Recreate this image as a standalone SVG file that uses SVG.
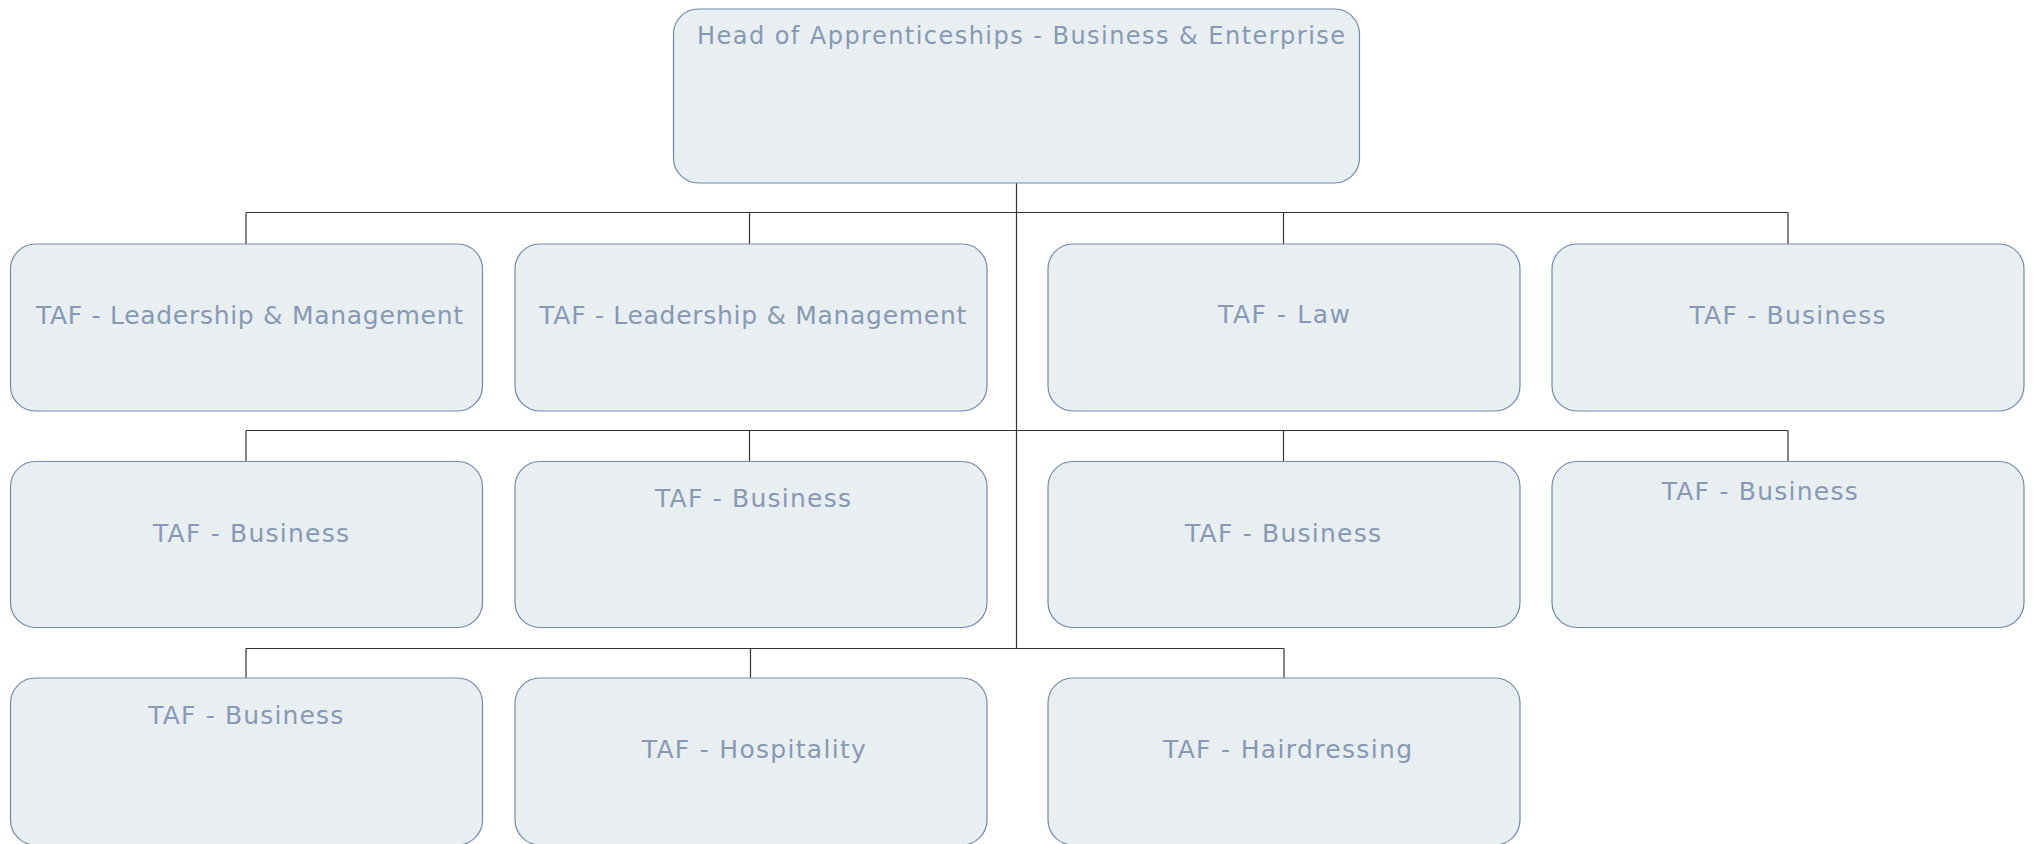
<svg xmlns="http://www.w3.org/2000/svg" width="2033" height="844" viewBox="0 0 2033 844">
<style>
.box{fill:#E9EEF1;stroke:#7289AC;stroke-width:1.2}
.t{font-family:"DejaVu Sans","Verdana",sans-serif;font-size:25px;fill:#8799B3}
.h{font-size:24px}
.c{stroke:#333;stroke-width:1.2;fill:none}
</style>
<rect width="2033" height="844" fill="#fff"/>
<g id="connectors">
<path class="c" d="M1016.5 183V648"/>
<path class="c" d="M246 212.5H1788M246 212.5V244M749.5 212.5V244M1283.5 212.5V244M1788 212.5V244"/>
<path class="c" d="M246 430.5H1788M246 430.5V461.5M749.5 430.5V461.5M1283.5 430.5V461.5M1788 430.5V461.5"/>
<path class="c" d="M246 648.5H1284M246 648.5V678M750.5 648.5V678M1284 648.5V678"/>
</g>
<g id="head"><rect class="box" x="673.5" y="9" width="686" height="174" rx="25"/><text class="t h" x="697" y="44.3" textLength="648" lengthAdjust="spacing">Head of Apprenticeships - Business &amp; Enterprise</text></g>
<g id="n1"><rect class="box" x="10.5" y="244" width="472" height="167" rx="25"/><text class="t" x="36" y="324" textLength="427" lengthAdjust="spacing">TAF - Leadership &amp; Management</text></g>
<g id="n2"><rect class="box" x="515" y="244" width="472" height="167" rx="25"/><text class="t" x="539.3" y="324.3" textLength="427" lengthAdjust="spacing">TAF - Leadership &amp; Management</text></g>
<g id="n3"><rect class="box" x="1048" y="244" width="472" height="167" rx="25"/><text class="t" x="1218" y="322.7" textLength="132" lengthAdjust="spacing">TAF - Law</text></g>
<g id="n4"><rect class="box" x="1552" y="244" width="472" height="167" rx="25"/><text class="t" x="1689.5" y="324" textLength="196" lengthAdjust="spacing">TAF - Business</text></g>
<g id="n5"><rect class="box" x="10.5" y="461.5" width="472" height="166" rx="25"/><text class="t" x="153" y="541.5" textLength="196" lengthAdjust="spacing">TAF - Business</text></g>
<g id="n6"><rect class="box" x="515" y="461.5" width="472" height="166" rx="25"/><text class="t" x="655" y="506.5" textLength="196" lengthAdjust="spacing">TAF - Business</text></g>
<g id="n7"><rect class="box" x="1048" y="461.5" width="472" height="166" rx="25"/><text class="t" x="1185" y="541.5" textLength="196" lengthAdjust="spacing">TAF - Business</text></g>
<g id="n8"><rect class="box" x="1552" y="461.5" width="472" height="166" rx="25"/><text class="t" x="1661.7" y="500" textLength="196" lengthAdjust="spacing">TAF - Business</text></g>
<g id="n9"><rect class="box" x="10.5" y="678" width="472" height="167" rx="25"/><text class="t" x="148.3" y="724" textLength="195" lengthAdjust="spacing">TAF - Business</text></g>
<g id="n10"><rect class="box" x="515" y="678" width="472" height="167" rx="25"/><text class="t" x="641.8" y="758" textLength="224" lengthAdjust="spacing">TAF - Hospitality</text></g>
<g id="n11"><rect class="box" x="1048" y="678" width="472" height="167" rx="25"/><text class="t" x="1163" y="758" textLength="249" lengthAdjust="spacing">TAF - Hairdressing</text></g>
</svg>
